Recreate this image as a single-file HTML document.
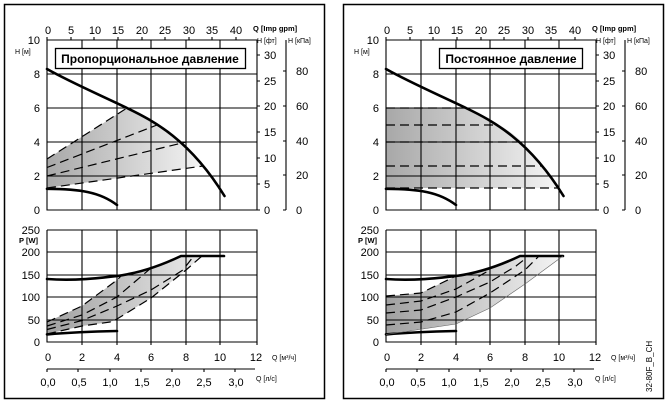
<!DOCTYPE html>
<html><head><meta charset="utf-8"><style>
body{margin:0;background:#fff}
svg{display:block;font-family:"Liberation Sans",sans-serif}
.g{stroke:#000;stroke-width:1.1;fill:none}
.c{stroke:#000;stroke-width:2.6;fill:none;stroke-linejoin:round;stroke-linecap:round}
.d{stroke:#000;stroke-width:1.2;fill:none;stroke-dasharray:9,5}
.t{font-size:11px;fill:#000}
.s{font-size:7px;fill:#000}
</style></head><body>
<svg width="669" height="405" viewBox="0 0 669 405">
<defs>
<linearGradient id="gr" x1="0" x2="1" y1="0" y2="0"><stop offset="0" stop-color="#a8a8a8"/><stop offset="1" stop-color="#f4f4f4"/></linearGradient>
<linearGradient id="gr2" gradientUnits="userSpaceOnUse" x1="47" x2="225" y1="0" y2="0"><stop offset="0" stop-color="#a0a0a0"/><stop offset="1" stop-color="#f6f6f6"/></linearGradient>
<g id="axes">
<path class="g" d="M47,40V210H257V40H47M82,40V210M117,40V210M151,40V210M186,40V210M220,40V210M47,74H257M47,108H257M47,142H257M47,176H257"/>
<path class="g" d="M47,40v-3M71,40v-3M94,40v-3M118,40v-3M142,40v-3M165,40v-3M189,40v-3M212,40v-3M236,40v-3"/>
<g class="t" text-anchor="middle">
<text x="48" y="34">0</text><text x="71" y="34">5</text><text x="95" y="34">10</text><text x="118" y="34">15</text><text x="142" y="34">20</text><text x="165" y="34">25</text><text x="189" y="34">30</text><text x="212" y="34">35</text><text x="236" y="34">40</text>
</g>
<g class="t" text-anchor="end">
<text x="40" y="44">10</text><text x="40" y="78">8</text><text x="40" y="112">6</text><text x="40" y="146">4</text><text x="40" y="180">2</text><text x="40" y="214">0</text>
</g>
<text x="253" y="31" style="font-size:7.5px;font-weight:bold">Q [Imp gpm]</text>
<text x="257" y="43" class="s">H [фт]</text>
<text x="288" y="43" class="s">H [кПа]</text>
<text x="15" y="54" class="s">H [м]</text>
<path class="g" d="M257,210h3M257,184h3M257,158h3M257,132h3M257,106h3M257,81h3M257,55h3M286,40V210M286,210h-3M286,175h-3M286,141h-3M286,106h-3M286,71h-3"/>
<g class="t">
<text x="264" y="214">0</text><text x="264" y="188">5</text><text x="264" y="162">10</text><text x="264" y="136">15</text><text x="264" y="110">20</text><text x="264" y="85">25</text><text x="264" y="59">30</text>
<text x="296" y="214">0</text><text x="296" y="179">20</text><text x="296" y="145">40</text><text x="296" y="110">60</text><text x="296" y="75">80</text>
</g>
<path class="c" d="M47,69C70,82 100,95 127,108S190,140 224.5,196"/>
<path class="c" d="M47,188.8C80,189 100,192 117,205"/>
<path class="g" d="M47,230V342H257V230H47M82,230V342M117,230V342M151,230V342M186,230V342M220,230V342M47,252H257M47,275H257M47,297H257M47,320H257"/>
<path class="g" d="M82,342v3M117,342v3M151,342v3M186,342v3M220,342v3M257,342v3"/>
<g class="t" text-anchor="end">
<text x="40" y="234">250</text><text x="40" y="256">200</text><text x="40" y="279">150</text><text x="40" y="301">100</text><text x="40" y="324">50</text><text x="40" y="346">0</text>
</g>
<text x="19" y="243" style="font-size:7.5px;font-weight:bold">P [W]</text>
<g class="t" text-anchor="middle">
<text x="48" y="361">0</text><text x="82" y="361">2</text><text x="117" y="361">4</text><text x="151" y="361">6</text><text x="186" y="361">8</text><text x="220" y="361">10</text><text x="256" y="361">12</text>
</g>
<text x="272" y="360" class="s">Q [м³/ч]</text>
<path class="g" d="M47,369H255M47,369v3M78,369v3M110,369v3M141,369v3M172,369v3M204,369v3M235,369v3"/>
<g class="t" text-anchor="middle">
<text x="48" y="386">0,0</text><text x="79" y="386">0,5</text><text x="110" y="386">1,0</text><text x="142" y="386">1,5</text><text x="173" y="386">2,0</text><text x="204" y="386">2,5</text><text x="236" y="386">3,0</text>
</g>
<text x="256" y="381" class="s">Q [л/с]</text>
<path class="c" d="M47,279C75,281 100,278 117,276C140,273 160,266 181,256L224,256"/>
<path class="c" d="M47,334.4C70,332.5 95,331.5 117,331"/>
</g>
</defs>

<rect x="4.5" y="4.5" width="320" height="394" fill="none" stroke="#000" stroke-width="1.5"/>
<path d="M47,159L127,108L151,120L169,131L186,145L203,166L47,188Z" fill="url(#gr)"/>
<path d="M47,322L82,306L117,280L122,275L151,268L181,256L202,256L186,270L151,298L117,319L110,322L82,326L47,334Z" fill="url(#gr2)"/>
<use href="#axes"/>
<path class="d" d="M47,159L127,108M47,167.5L157,125M47,176L186,142M47,188L203,166"/>
<path class="d" d="M47,322L82,306L117,280L122,275M47,326L82,315L117,297L151,268M47,329.5L82,320.5L117,306L151,290L183,270L193,257M47,334L82,326L110,322L117,319L151,298L186,270L202,256"/>
<rect x="55.5" y="48.5" width="190" height="20" fill="#fff" stroke="#000" stroke-width="1.3"/>
<text x="150" y="63" text-anchor="middle" style="font-size:12px;font-weight:bold">Пропорциональное давление</text>

<g transform="translate(339,0)">
<rect x="4.5" y="4.5" width="320" height="394" fill="none" stroke="#000" stroke-width="1.5"/>
<path d="M47,108L127,108C150,118 172,130 186,145C200,160 210,172 218,188L47,188Z" fill="url(#gr)"/>
<path d="M47,296L82,293L117,276L151,268L181,256L224,256L186,284L151,308L117,324L47,334Z" fill="url(#gr2)"/>
<use href="#axes"/>
<path class="d" d="M47,108H127M47,125H157M47,142H180M47,166H204M47,188H218"/>
<path class="d" d="M47,296L82,293L117,276M47,305L82,301L117,289L151,270M47,313L82,310L117,297L151,282L177,266L186,259M47,325L82,322L117,312L151,293L186,270L200,256"/>
<path d="M47,334.4L117,324L151,308L186,284L224,256" stroke="#666" stroke-width="0.6" fill="none"/>
<rect x="100.5" y="48.5" width="143" height="20" fill="#fff" stroke="#000" stroke-width="1.3"/>
<text x="172" y="63" text-anchor="middle" style="font-size:12px;font-weight:bold">Постоянное давление</text>
<text transform="translate(313,392) rotate(-90)" class="s" style="font-size:8px">32-80F_B_CH</text>
</g>
</svg>
</body></html>
